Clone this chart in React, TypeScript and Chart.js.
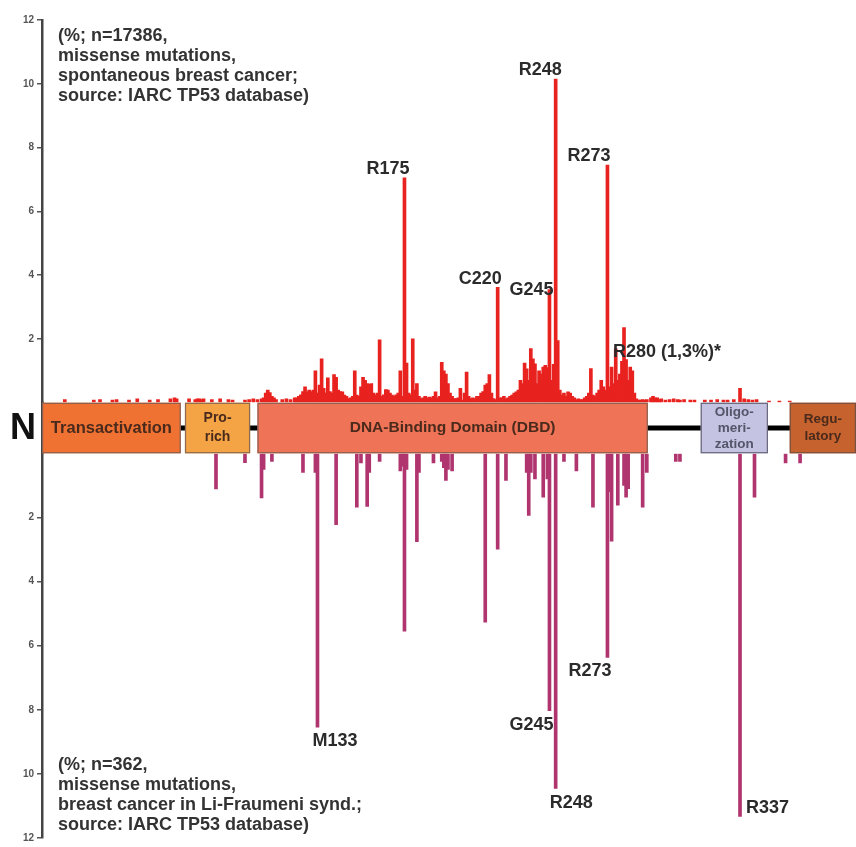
import React, { useEffect, useRef } from 'react';
import { Chart, registerables } from 'chart.js';

Chart.register(...registerables);

// ---------- data ----------
const PROTEIN_LENGTH = 393;
const Y_MAX = 12;
const yTickStep = 2;

// [residue, % of missense mutations] – spontaneous breast cancer (n=17386)
const spontaneousBreast: [number, number][] = [
  [11, 0.1], [25, 0.08], [28, 0.1], [34, 0.08], [36, 0.1], [42, 0.08], [46, 0.12], [52, 0.08], [56, 0.1],
  [62, 0.12], [64, 0.15], [65, 0.12], [71, 0.12], [74, 0.1], [75, 0.12], [76, 0.12], [77, 0.1], [78, 0.12],
  [82, 0.1], [86, 0.12], [90, 0.1], [92, 0.08], [98, 0.08],
  [100, 0.1], [102, 0.12], [104, 0.1], [106, 0.12], [107, 0.15], [108, 0.3], [109, 0.4], [110, 0.32], [111, 0.2],
  [112, 0.15], [113, 0.1], [116, 0.1], [118, 0.12], [120, 0.1], [122, 0.15], [123, 0.15], [124, 0.2], [125, 0.25],
  [126, 0.35], [127, 0.5], [128, 0.34], [129, 0.4], [130, 0.35], [131, 0.4], [132, 1.0], [133, 0.3], [134, 0.55],
  [135, 1.38], [136, 0.45], [137, 0.3], [138, 0.78], [139, 0.35], [140, 0.3], [141, 0.88], [142, 0.8], [143, 0.4],
  [144, 0.35], [145, 0.34], [146, 0.24], [147, 0.2], [148, 0.13], [149, 0.15], [150, 0.2], [151, 1.0], [152, 0.24],
  [153, 0.2], [154, 0.5], [155, 0.8], [156, 0.7], [157, 0.6], [158, 0.58], [159, 0.6], [160, 0.3], [161, 0.25],
  [162, 0.3], [163, 1.97], [164, 0.2], [165, 0.25], [166, 0.41], [167, 0.4], [168, 0.3], [169, 0.24], [170, 0.2],
  [171, 0.25], [172, 0.3], [173, 1.0], [174, 0.2], [175, 7.05], [176, 1.24], [177, 0.3], [178, 0.25], [179, 2.0],
  [180, 0.4], [181, 0.6], [182, 0.2], [183, 0.13], [184, 0.15], [185, 0.2], [186, 0.15], [187, 0.18], [188, 0.15],
  [189, 0.2], [190, 0.34], [191, 0.15], [192, 0.2], [193, 1.27], [194, 1.0], [195, 0.9], [196, 0.6], [197, 0.3],
  [198, 0.2], [199, 0.13], [200, 0.13], [201, 0.15], [202, 0.45], [203, 0.08], [204, 0.3], [205, 0.96], [206, 0.2],
  [207, 0.13], [208, 0.15], [209, 0.13], [210, 0.2], [211, 0.2], [212, 0.3], [213, 0.35], [214, 0.55], [215, 0.6],
  [216, 0.88], [217, 0.3], [218, 0.13], [219, 0.1], [220, 3.62], [221, 0.15], [222, 0.15], [223, 0.2], [224, 0.12],
  [225, 0.15], [226, 0.2], [227, 0.24], [228, 0.3], [229, 0.34], [230, 0.4], [231, 0.7], [232, 0.6], [233, 1.24],
  [234, 1.06], [235, 0.7], [236, 1.7], [237, 1.38], [238, 1.22], [239, 0.6], [240, 1.0], [241, 0.9], [242, 1.12],
  [243, 1.17], [244, 1.1], [245, 3.55], [246, 0.7], [247, 1.2], [248, 10.15], [249, 1.95], [250, 0.4], [251, 0.24],
  [252, 0.3], [253, 0.2], [254, 0.34], [255, 0.3], [256, 0.2], [257, 0.15], [258, 0.1], [259, 0.12], [260, 0.1],
  [261, 0.1], [262, 0.15], [263, 0.2], [264, 0.3], [265, 1.07], [266, 0.24], [267, 0.2], [268, 0.3], [269, 0.4],
  [270, 0.7], [271, 0.5], [272, 0.4], [273, 7.45], [274, 0.5], [275, 1.12], [276, 0.6], [277, 1.69], [278, 0.7],
  [279, 0.9], [280, 1.3], [281, 2.36], [282, 1.35], [283, 0.7], [284, 1.12], [285, 1.0], [286, 0.3], [287, 0.12],
  [288, 0.08], [289, 0.08], [290, 0.1], [291, 0.08], [292, 0.1], [294, 0.15], [295, 0.2], [296, 0.15], [297, 0.15],
  [298, 0.1], [299, 0.12], [301, 0.08], [303, 0.1], [305, 0.12], [307, 0.1], [308, 0.08], [310, 0.1], [313, 0.08],
  [315, 0.08], [320, 0.08], [323, 0.08], [326, 0.1], [329, 0.08], [331, 0.08], [334, 0.1], [337, 0.45], [339, 0.12],
  [341, 0.1], [343, 0.08], [345, 0.1], [351, 0.05], [356, 0.05], [361, 0.05],
];

// [residue, % of missense mutations] – breast cancer in Li-Fraumeni syndrome (n=362)
const liFraumeniBreast: [number, number][] = [
  [84, 1.11], [98, 0.29], [106, 1.39], [107, 0.5], [111, 0.25], [126, 0.6], [132, 0.6], [133, 8.54], [142, 2.23],
  [152, 1.68], [154, 0.3], [157, 1.66], [158, 0.6], [163, 0.25], [173, 0.55], [174, 0.4], [175, 5.55], [176, 0.5],
  [181, 2.76], [182, 0.6], [189, 0.3], [193, 0.25], [194, 0.45], [195, 0.85], [196, 0.5], [198, 0.55], [214, 5.27],
  [220, 2.99], [224, 0.85], [234, 0.6], [235, 1.94], [236, 0.6], [238, 0.8], [242, 1.37], [244, 0.8], [245, 8.03],
  [248, 10.45], [252, 0.25], [258, 0.55], [266, 1.68], [273, 6.37], [274, 1.2], [275, 2.74], [278, 1.62], [281, 1.0],
  [282, 1.37], [283, 1.1], [290, 1.68], [292, 0.6], [306, 0.25], [308, 0.25], [337, 11.33], [344, 1.37], [359, 0.3],
  [366, 0.3],
];

const domainNames = ['Transactivation', 'Pro-\nrich', 'DNA-Binding Domain (DBD)', 'Oligo-\nmeri-\nzation', 'Regu-\nlatory'];
const domainStart = [0, 69, 104, 318, 361];
const domainEnd = [67, 100.5, 292.5, 350.5, 393];

const upperLabelText = ['R175', 'C220', 'G245', 'R248', 'R273', 'R280 (1,3%)*'];
const upperLabelResidue = [175, 220, 245, 248, 273, 280];
const lowerLabelText = ['M133', 'G245', 'R248', 'R273', 'R337'];
const lowerLabelResidue = [133, 245, 248, 273, 337];

const upperNote = ['(%; n=17386,', 'missense mutations,', 'spontaneous breast cancer;', 'source: IARC TP53 database)'];
const lowerNote = ['(%; n=362,', 'missense mutations,', 'breast cancer in Li-Fraumeni synd.;', 'source: IARC TP53 database)'];
const terminusLabel = 'N';

// ---------- styles ----------
const FONT = '"Liberation Sans", Arial, Helvetica, sans-serif';
const upperColor = '#e8221f';
const lowerColor = '#b0356f';
const domainFill = ['#ef7232', '#f4a444', '#ef7356', '#c5c3e2', '#c5622e'];
const domainBorder = ['#8a6050', '#8a6a50', '#8a6050', '#66667a', '#7a5040'];
const domainTextColor = ['#4a2a1c', '#4a2a1c', '#4a2a1c', '#55556a', '#4a2a1c'];
const domainFontSize = [16.5, 14, 15.5, 13.5, 13.5];
const domainLineHeight = [17, 19, 17, 16, 17];
const upperLabelStyle = [
  { align: 'right', dx: 5, dy: -4 },
  { align: 'right', dx: 4, dy: -3 },
  { align: 'right', dx: 4, dy: 5 },
  { align: 'right', dx: 6, dy: -4 },
  { align: 'right', dx: 3, dy: -4 },
  { align: 'left', dx: -9, dy: -4 },
];
const lowerLabelStyle = [
  { align: 'left', dx: -5, dy: 5 },
  { align: 'right', dx: 4, dy: 5 },
  { align: 'left', dx: -6, dy: 6 },
  { align: 'right', dx: 4, dy: 5 },
  { align: 'left', dx: 6, dy: -17 },
];

function valueAt(series: [number, number][], residue: number): number {
  const p = series.find((d) => d[0] === residue);
  return p ? p[1] : 0;
}

const overlayPlugin = {
  id: 'tp53Overlay',
  afterDatasetsDraw(chart: any) {
    const ctx = chart.ctx;
    const xs = chart.scales.x;
    const mid = chart.scales.yMid;
    const top = mid.top;
    const bottom = mid.bottom;
    const cy = (top + bottom) / 2;
    ctx.save();
    ctx.strokeStyle = '#000';
    ctx.lineWidth = 5;
    ctx.beginPath();
    ctx.moveTo(xs.getPixelForValue(0), cy);
    ctx.lineTo(xs.getPixelForValue(PROTEIN_LENGTH), cy);
    ctx.stroke();
    domainNames.forEach((name, i) => {
      const x0 = xs.getPixelForValue(domainStart[i]);
      const x1 = xs.getPixelForValue(domainEnd[i]);
      ctx.fillStyle = domainFill[i];
      ctx.fillRect(x0, top, x1 - x0, bottom - top);
      ctx.strokeStyle = domainBorder[i];
      ctx.lineWidth = 1.2;
      ctx.strokeRect(x0 + 0.6, top + 0.6, x1 - x0 - 1.2, bottom - top - 1.2);
      const lines = name.split('\n');
      ctx.font = `bold ${domainFontSize[i]}px ${FONT}`;
      ctx.fillStyle = domainTextColor[i];
      ctx.textAlign = 'center';
      ctx.textBaseline = 'middle';
      const lh = domainLineHeight[i];
      lines.forEach((ln, j) => {
        ctx.fillText(ln, (x0 + x1) / 2, cy + (j - (lines.length - 1) / 2) * lh);
      });
    });
    ctx.restore();
  },
  afterDraw(chart: any) {
    const ctx = chart.ctx;
    const xs = chart.scales.x;
    const yt = chart.scales.yTop;
    const yb = chart.scales.yBot;
    const mid = chart.scales.yMid;
    ctx.save();
    ctx.fillStyle = '#2b2b2b';
    ctx.font = `bold 18px ${FONT}`;
    upperLabelText.forEach((t, i) => {
      const r = upperLabelResidue[i];
      const s = upperLabelStyle[i];
      const px = xs.getPixelForValue(r);
      const py = yt.getPixelForValue(valueAt(spontaneousBreast, r));
      ctx.textAlign = s.align;
      ctx.textBaseline = 'alphabetic';
      ctx.fillText(t, px + s.dx, py + s.dy);
    });
    lowerLabelText.forEach((t, i) => {
      const r = lowerLabelResidue[i];
      const s = lowerLabelStyle[i];
      const px = xs.getPixelForValue(r);
      const py = yb.getPixelForValue(valueAt(liFraumeniBreast, r));
      ctx.textAlign = s.align;
      ctx.textBaseline = 'top';
      ctx.fillText(t, px + s.dx, py + s.dy);
    });
    ctx.fillStyle = '#333';
    ctx.textAlign = 'left';
    ctx.textBaseline = 'middle';
    const left = chart.chartArea.left + 16;
    upperNote.forEach((t, i) => ctx.fillText(t, left, yt.top + 16 + i * 20));
    lowerNote.forEach((t, i) => ctx.fillText(t, left, yb.bottom - 73 + i * 20));
    ctx.fillStyle = '#111';
    ctx.font = `bold 36px ${FONT}`;
    ctx.textAlign = 'right';
    ctx.fillText(terminusLabel, chart.chartArea.left - 6, (mid.top + mid.bottom) / 2 + 1);
    ctx.restore();
  },
};

const yAxisBase = (reverse: boolean) => ({
  type: 'linear' as const,
  position: 'left' as const,
  stack: 'v',
  min: 0,
  max: Y_MAX,
  reverse,
  afterFit: (scale: any) => {
    scale.width = 42;
  },
  ticks: {
    stepSize: yTickStep,
    padding: 3,
    color: '#555',
    font: { family: FONT, weight: 'bold' as const, size: 10 },
    callback: (v: any) => (v === 0 ? '' : String(v)),
  },
  grid: {
    display: true,
    drawOnChartArea: false,
    drawTicks: true,
    tickLength: 5,
    lineWidth: 1.5,
    color: (c: any) => (c.tick && c.tick.value === 0 ? 'rgba(0,0,0,0)' : '#555'),
  },
  border: { display: true, color: '#444', width: 2.5 },
});

export default function App() {
  const canvasRef = useRef<HTMLCanvasElement | null>(null);

  useEffect(() => {
    const canvas = canvasRef.current;
    if (!canvas) return;
    const chart = new Chart(canvas, {
      type: 'bar',
      data: {
        datasets: [
          {
            label: 'spontaneous breast cancer',
            data: spontaneousBreast.map(([r, v]) => ({ x: r, y: v })),
            yAxisID: 'yTop',
            backgroundColor: upperColor,
            barThickness: 3,
            grouped: false,
          } as any,
          {
            label: 'breast cancer in Li-Fraumeni synd.',
            data: liFraumeniBreast.map(([r, v]) => ({ x: r, y: v })),
            yAxisID: 'yBot',
            backgroundColor: lowerColor,
            barThickness: 3,
            grouped: false,
          } as any,
        ],
      },
      options: {
        animation: false,
        responsive: false,
        maintainAspectRatio: false,
        layout: { padding: { top: 20, bottom: 2, left: 0, right: 0 } },
        plugins: { legend: { display: false }, tooltip: { enabled: false } },
        scales: {
          x: { type: 'linear', min: 0, max: PROTEIN_LENGTH, offset: false, display: false, grid: { offset: false } },
          yTop: { ...yAxisBase(false), stackWeight: 386, weight: 3 },
          yMid: {
            type: 'linear',
            position: 'left',
            stack: 'v',
            stackWeight: 51,
            weight: 2,
            min: 0,
            max: 1,
            afterFit: (scale: any) => {
              scale.width = 42;
            },
            ticks: { display: false },
            grid: { display: false },
            border: { display: true, color: '#444', width: 2.5 },
          },
          yBot: { ...yAxisBase(true), stackWeight: 388, weight: 1 },
        } as any,
      },
      plugins: [overlayPlugin],
    });
    return () => chart.destroy();
  }, []);

  return (
    <div style={{ position: 'absolute', left: 0, top: 0, width: 856, height: 847, background: '#fff' }}>
      <canvas ref={canvasRef} width={856} height={847} style={{ display: 'block', width: 856, height: 847 }} />
    </div>
  );
}
